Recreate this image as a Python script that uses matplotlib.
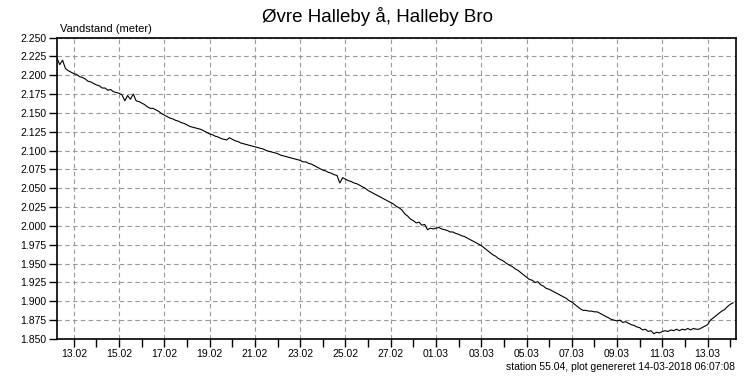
"""plot.py — vandstand, Øvre Halleby å (station 55.04), 30 dage."""
import matplotlib
matplotlib.use("Agg")
import matplotlib.pyplot as plt
import matplotlib.dates as mdates
import pandas as pd

plt.rcParams["font.family"] = ["Liberation Sans", "DejaVu Sans"]

TITLE = "Øvre Halleby å, Halleby Bro"
Y_LABEL = "Vandstand (meter)"
FOOTER = "station 55.04, plot genereret 14-03-2018 06:07:08"

# målinger hver 3. time fra 12.02 06:00
START = "2018-02-12 06:00"
STEP = "3h"
vandstand = [
    2.223, 2.214, 2.220, 2.209, 2.206, 2.204,                    # 12.02
    2.202, 2.201, 2.198, 2.197, 2.195, 2.192, 2.191, 2.189,      # 13.02
    2.187, 2.186, 2.183, 2.183, 2.180, 2.181, 2.178, 2.177,      # 14.02
    2.176, 2.174, 2.166, 2.173, 2.168, 2.175, 2.166, 2.165,      # 15.02
    2.163, 2.161, 2.158, 2.156, 2.156, 2.154, 2.152, 2.149,      # 16.02
    2.147, 2.145, 2.143, 2.142, 2.140, 2.139, 2.137, 2.136,      # 17.02
    2.134, 2.132, 2.131, 2.130, 2.129, 2.128, 2.126, 2.124,      # 18.02
    2.122, 2.121, 2.119, 2.118, 2.116, 2.115, 2.114, 2.117,      # 19.02
    2.115, 2.113, 2.112, 2.110, 2.109, 2.108, 2.107, 2.106,      # 20.02
    2.105, 2.104, 2.103, 2.102, 2.100, 2.099, 2.098, 2.097,      # 21.02
    2.096, 2.094, 2.093, 2.092, 2.091, 2.090, 2.089, 2.088,      # 22.02
    2.087, 2.085, 2.085, 2.083, 2.082, 2.080, 2.078, 2.076,      # 23.02
    2.074, 2.073, 2.071, 2.070, 2.068, 2.067, 2.057, 2.064,      # 24.02
    2.062, 2.060, 2.059, 2.057, 2.056, 2.054, 2.052, 2.050,      # 25.02
    2.047, 2.045, 2.043, 2.041, 2.039, 2.037, 2.035, 2.033,      # 26.02
    2.031, 2.029, 2.026, 2.024, 2.021, 2.016, 2.013, 2.009,      # 27.02
    2.007, 2.004, 2.005, 2.001, 2.002, 1.995, 1.997, 1.996,      # 28.02
    1.997, 1.998, 1.996, 1.995, 1.994, 1.992, 1.992, 1.990,      # 01.03
    1.989, 1.987, 1.986, 1.984, 1.982, 1.980, 1.978, 1.976,      # 02.03
    1.974, 1.971, 1.968, 1.965, 1.962, 1.960, 1.957, 1.955,      # 03.03
    1.953, 1.950, 1.948, 1.946, 1.943, 1.941, 1.938, 1.935,      # 04.03
    1.932, 1.929, 1.928, 1.925, 1.926, 1.922, 1.920, 1.917,      # 05.03
    1.916, 1.914, 1.912, 1.910, 1.908, 1.906, 1.904, 1.901,      # 06.03
    1.899, 1.896, 1.893, 1.890, 1.888, 1.888, 1.887, 1.887,      # 07.03
    1.886, 1.886, 1.884, 1.882, 1.880, 1.878, 1.876, 1.875,      # 08.03
    1.874, 1.875, 1.872, 1.873, 1.871, 1.869, 1.868, 1.866,      # 09.03
    1.865, 1.862, 1.863, 1.860, 1.861, 1.857, 1.859, 1.858,      # 10.03
    1.860, 1.861, 1.860, 1.862, 1.861, 1.863, 1.861, 1.863,      # 11.03
    1.862, 1.864, 1.862, 1.864, 1.863, 1.863, 1.865, 1.867,      # 12.03
    1.869, 1.875, 1.878, 1.881, 1.884, 1.887, 1.889, 1.893,      # 13.03
    1.896, 1.898,                                                # 14.03
]
tid = pd.date_range(START, periods=len(vandstand), freq=STEP)

X_MIN, X_MAX = pd.Timestamp("2018-02-12 06:07"), pd.Timestamp("2018-03-14 06:07")
Y_MIN, Y_MAX, Y_STEP = 1.850, 2.250, 0.025


fig = plt.figure(figsize=(7.56, 3.78), dpi=100)
ax = fig.add_axes([57 / 756, 39 / 378, 679 / 756, 301.5 / 378])

ax.plot(tid, vandstand, color="black", lw=0.8)

ax.set_xlim(X_MIN, X_MAX)
ax.set_ylim(Y_MIN, Y_MAX)
ax.set_yticks([Y_MIN + i * Y_STEP for i in range(17)])
ax.yaxis.set_major_formatter(matplotlib.ticker.FormatStrFormatter("%.3f"))

ax.xaxis.set_major_locator(mdates.DayLocator(bymonthday=range(1, 32, 2)))
ax.xaxis.set_minor_locator(mdates.DayLocator(bymonthday=range(2, 32, 2)))
ax.xaxis.set_major_formatter(mdates.DateFormatter("%d.%m"))

ax.tick_params(axis="both", which="both", direction="out", length=5.5,
               width=1, color="black", labelsize=7.5, pad=2)
ax.grid(True, which="major", color="#999999", ls=(0, (4, 3)), lw=0.8)
for s in ax.spines.values():
    s.set_linewidth(1.2)

ax.text(0.005, 1.01, Y_LABEL, transform=ax.transAxes, fontsize=8,
        ha="left", va="bottom")
fig.text(377 / 756, 1 - 16 / 378, TITLE, fontsize=13.5, ha="center",
         va="center")
fig.text(735 / 756, 1 - 367 / 378, FOOTER, fontsize=7.5, ha="right",
         va="center")

fig.savefig("out.png", dpi=100)
